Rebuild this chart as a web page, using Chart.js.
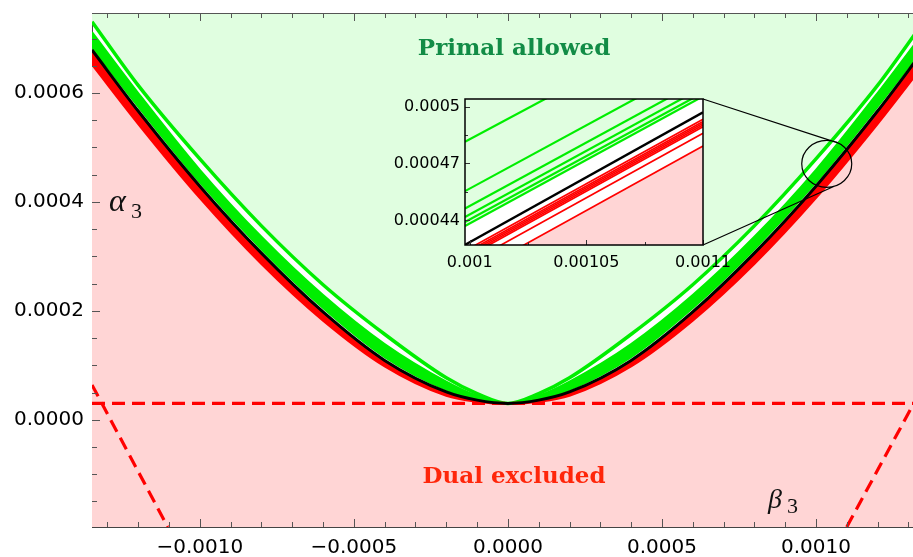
<!DOCTYPE html>
<html>
<head>
<meta charset="utf-8">
<script src="https://cdn.jsdelivr.net/npm/chart.js@4.4.1/dist/chart.umd.min.js"></script>
<style>
  html, body { margin: 0; padding: 0; background: #fff; }
  #wrap { position: relative; width: 913px; height: 557px; overflow: hidden; }
  #main { position: absolute; left: 0; top: 0; }
  #inset { position: absolute; left: 385px; top: 88px; }
</style>
</head>
<body>
<div id="wrap">
  <canvas id="main" width="913" height="557"></canvas>
  <canvas id="inset" width="380" height="190"></canvas>
</div>
<script>
// ---- main plot: bounds sampled along beta_3 ----
const betaVals = [-0.00135, -0.0012, -0.001, -0.0008, -0.0006, -0.0004, -0.0002, -0.0001, 0,
                  0.0001, 0.0002, 0.0004, 0.0006, 0.0008, 0.001, 0.0012, 0.00135];
const blackBound = [0.000679, 0.000567, 0.000429, 0.000306, 0.000198, 0.000109, 0.000051, 0.000036, 0.000030,
                    0.000036, 0.000051, 0.000109, 0.000198, 0.000306, 0.000429, 0.000567, 0.000679];
const greenOuter = [0.000731, 0.000614, 0.000479, 0.000356, 0.000248, 0.000157, 0.000077, 0.000048, 0.000030,
                    0.000048, 0.000077, 0.000157, 0.000248, 0.000356, 0.000479, 0.000614, 0.000731];
const greenBandTop = [0.000712, 0.000600, 0.000459, 0.000336, 0.000229, 0.000139, 0.000070, 0.000044, 0.000030,
                      0.000044, 0.000070, 0.000139, 0.000229, 0.000336, 0.000459, 0.000600, 0.000712];
const greenBandBot = [0.000684, 0.000575, 0.000436, 0.000313, 0.000205, 0.000115, 0.000055, 0.000038, 0.000030,
                      0.000038, 0.000055, 0.000115, 0.000205, 0.000313, 0.000436, 0.000575, 0.000684];
const redBandBot = [0.000652, 0.000543, 0.000407, 0.000286, 0.000182, 0.000098, 0.000044, 0.000033, 0.000029,
                    0.000033, 0.000044, 0.000098, 0.000182, 0.000286, 0.000407, 0.000543, 0.000652];

// dashed dual lines (end points)
const dashFlatX = [-0.00135, 0.00135], dashFlatY = [0.00003, 0.00003];
const dashLeftX = [-0.00135, -0.001104], dashLeftY = [0.000064, -0.000197];
const dashRightX = [0.0011, 0.001315], dashRightY = [-0.000197, 0.0000275];

const xMajor = [-0.001, -0.0005, 0, 0.0005, 0.001];
const xTickLabels = ["\u22120.0010", "\u22120.0005", "0.0000", "0.0005", "0.0010"];
const xMinor = [-0.0013, -0.0012, -0.0011, -0.0009, -0.0008, -0.0007, -0.0006, -0.0004, -0.0003, -0.0002, -0.0001,
                0.0001, 0.0002, 0.0003, 0.0004, 0.0006, 0.0007, 0.0008, 0.0009, 0.0011, 0.0012, 0.0013];
const yMajor = [0, 0.0002, 0.0004, 0.0006];
const yTickLabels = ["0.0000", "0.0002", "0.0004", "0.0006"];
const yMinor = [-0.00015, -0.0001, -0.00005, 0.00005, 0.0001, 0.00015, 0.00025, 0.0003, 0.00035,
                0.00045, 0.0005, 0.00055, 0.00065, 0.0007];

// ---- inset: straight segments between x = 0.000998 and x = 0.0011 ----
const insetEdgeX = [0.000998, 0.0011];
const insetGreenLeft = [0.0004815, 0.0004554, 0.0004462, 0.0004418, 0.0004391, 0.000437];
const insetGreenRight = [0.0005484, 0.0005235, 0.0005145, 0.0005102, 0.0005073, 0.0005054];
const insetBlack = [0.0004271, 0.000497];
const insetRedLeft = [0.0004239, 0.0004227, 0.0004218, 0.0004209, 0.00042, 0.0004165, 0.0004098];
const insetRedRight = [0.0004933, 0.0004921, 0.0004912, 0.0004903, 0.0004894, 0.0004859, 0.0004792];
const insetXMajor = [0.001, 0.00105, 0.0011];
const insetXLabels = ["0.001", "0.00105", "0.0011"];
const insetXMinor = [0.001025, 0.001075];
const insetYMajor = [0.00044, 0.00047, 0.0005];
const insetYLabels = ["0.00044", "0.00047", "0.0005"];
const insetYMinor = [0.000455, 0.000485];

const GREEN = "rgb(0,238,0)";
const RED = "#ff0000";
const LIGHT_GREEN = "rgb(224,254,224)";
const PINK = "rgb(255,213,213)";
const TICK_FONT = '"DejaVu Sans", sans-serif';

const pts = (xs, ys) => xs.map((v, i) => ({ x: v, y: ys[i] }));
const curve = (ys) => pts(betaVals, ys);

// stop Chart.js from reserving room for half a tick label at the axis ends
const noEndPadding = (size, key) => s => {
  s[key] = size;
  s.paddingTop = 0; s.paddingBottom = 0; s.paddingLeft = 0; s.paddingRight = 0;
};

function drawTicks(ctx, a, x, y, spec) {
  ctx.save();
  ctx.strokeStyle = spec.color;
  ctx.lineWidth = 1;
  ctx.beginPath();
  const vt = (vals, len) => vals.forEach(v => {
    const px = Math.round(x.getPixelForValue(v)) + 0.5;
    ctx.moveTo(px, a.bottom); ctx.lineTo(px, a.bottom - len);
    if (spec.top) { ctx.moveTo(px, a.top); ctx.lineTo(px, a.top + len); }
  });
  const ht = (vals, len) => vals.forEach(v => {
    const py = Math.round(y.getPixelForValue(v)) + 0.5;
    ctx.moveTo(a.left, py); ctx.lineTo(a.left + len, py);
  });
  vt(spec.xMajor, spec.major); vt(spec.xMinor, spec.minor);
  ht(spec.yMajor, spec.major); ht(spec.yMinor, spec.minor);
  ctx.stroke();
  ctx.restore();
}

// ---------- inset chart ----------
const insetSets = [];
insetGreenLeft.forEach((yl, i) => {
  const last = i === insetGreenLeft.length - 1;
  insetSets.push({
    data: pts(insetEdgeX, [yl, insetGreenRight[i]]),
    borderColor: GREEN, borderWidth: 2.2,
    fill: last ? "end" : false, backgroundColor: LIGHT_GREEN
  });
});
insetRedLeft.forEach((yl, i) => {
  const last = i === insetRedLeft.length - 1;
  insetSets.push({
    data: pts(insetEdgeX, [yl, insetRedRight[i]]),
    borderColor: RED, borderWidth: 1.7,
    fill: last ? "start" : false, backgroundColor: PINK
  });
});
insetSets.push({ data: pts(insetEdgeX, insetBlack), borderColor: "#000", borderWidth: 2.4, fill: false, order: -1 });

const insetFrame = {
  id: "insetFrame",
  beforeDatasetsDraw(chart) {
    const { ctx, chartArea: a } = chart;
    ctx.save();
    ctx.fillStyle = "#fff";
    ctx.fillRect(a.left, a.top, a.right - a.left, a.bottom - a.top);
    ctx.restore();
  },
  afterDatasetsDraw(chart) {
    const { ctx, chartArea: a, scales: { x, y } } = chart;
    drawTicks(ctx, a, x, y, { color: "#333", major: 5, minor: 3, top: false,
      xMajor: insetXMajor, xMinor: insetXMinor, yMajor: insetYMajor, yMinor: insetYMinor });
    ctx.save();
    ctx.strokeStyle = "#000";
    ctx.lineWidth = 1.5;
    ctx.strokeRect(a.left, a.top, a.right - a.left, a.bottom - a.top);
    ctx.restore();
  }
};

const insetChart = new Chart(document.getElementById("inset"), {
  type: "line",
  data: { datasets: insetSets },
  options: {
    responsive: false, animation: false, devicePixelRatio: 1,
    layout: { padding: { top: 11, right: 62, left: 0, bottom: 0 } },
    elements: { point: { radius: 0 }, line: { tension: 0 } },
    plugins: { legend: { display: false }, tooltip: { enabled: false } },
    scales: {
      x: {
        type: "linear", min: 0.000998, max: 0.0011,
        grid: { display: false, drawTicks: false }, border: { display: false },
        afterBuildTicks: s => { s.ticks = insetXMajor.map(v => ({ value: v })); },
        afterFit: noEndPadding(33, "height"),
        ticks: { callback: (v, i) => insetXLabels[i], color: "#000", padding: 8, maxRotation: 0,
                 font: { family: TICK_FONT, size: 16 } }
      },
      y: {
        type: "linear", min: 0.000427, max: 0.000504,
        grid: { display: false, drawTicks: false }, border: { display: false },
        afterBuildTicks: s => { s.ticks = insetYMajor.map(v => ({ value: v })); },
        afterFit: noEndPadding(80, "width"),
        ticks: { callback: (v, i) => insetYLabels[i], color: "#000", padding: 5,
                 font: { family: TICK_FONT, size: 16 } }
      }
    }
  },
  plugins: [insetFrame]
});

// ---------- main chart ----------
const mainMarks = {
  id: "mainMarks",
  afterDatasetsDraw(chart) {
    const { ctx, chartArea: a, scales: { x, y } } = chart;
    drawTicks(ctx, a, x, y, { color: "#555", major: 8, minor: 5, top: true,
      xMajor, xMinor, yMajor, yMinor });
    ctx.save();
    ctx.strokeStyle = "#555";
    ctx.lineWidth = 1;
    ctx.beginPath();
    ctx.moveTo(a.left, a.top + 0.5); ctx.lineTo(a.right, a.top + 0.5);
    ctx.stroke();

    // zoom circle and connectors to the inset
    const cx = x.getPixelForValue(0.001035), cy = y.getPixelForValue(0.00047);
    const rx = 25, ry = 23.5;
    const ia = insetChart.chartArea;
    const off = insetChart.canvas;
    const ix = off.offsetLeft + ia.right;
    const topPt = [cx + rx * Math.cos(-1.08), cy + ry * Math.sin(-1.08)];
    const botPt = [cx + rx * Math.cos(1.24), cy + ry * Math.sin(1.24)];
    ctx.strokeStyle = "#000";
    ctx.lineWidth = 1.2;
    ctx.beginPath();
    ctx.ellipse(cx, cy, rx, ry, 0, 0, Math.PI * 2);
    ctx.moveTo(ix, off.offsetTop + ia.top); ctx.lineTo(topPt[0], topPt[1]);
    ctx.moveTo(ix, off.offsetTop + ia.bottom); ctx.lineTo(botPt[0], botPt[1]);
    ctx.stroke();

    // region labels
    ctx.textAlign = "center";
    ctx.textBaseline = "middle";
    ctx.font = 'bold 23px "DejaVu Serif", serif';
    ctx.fillStyle = "rgb(18,140,70)";
    ctx.fillText("Primal allowed", x.getPixelForValue(0.00002), y.getPixelForValue(0.000681));
    ctx.fillStyle = "rgb(255,38,10)";
    ctx.fillText("Dual excluded", x.getPixelForValue(0.00002), y.getPixelForValue(-0.000106));

    // axis symbols
    ctx.fillStyle = "#111";
    ctx.textAlign = "left";
    ctx.textBaseline = "alphabetic";
    const ax = x.getPixelForValue(-0.001295), ay = y.getPixelForValue(0.000384);
    ctx.font = 'italic 32px "Liberation Serif", serif';
    ctx.fillText("\u03b1", ax, ay);
    ctx.font = '22px "Liberation Serif", serif';
    ctx.fillText("3", ax + 22, ay + 7);
    const bx = x.getPixelForValue(0.000844), by = y.getPixelForValue(-0.000162);
    ctx.font = 'italic 28px "Liberation Serif", serif';
    ctx.fillText("\u03b2", bx, by);
    ctx.font = '22px "Liberation Serif", serif';
    ctx.fillText("3", bx + 19, by + 5);
    ctx.restore();
  }
};

const mainChart = new Chart(document.getElementById("main"), {
  type: "line",
  data: {
    datasets: [
      { data: curve(greenOuter), borderColor: "transparent", borderWidth: 0, fill: "end", backgroundColor: LIGHT_GREEN, order: 10 },
      { data: curve(redBandBot), borderColor: "transparent", borderWidth: 0, fill: "start", backgroundColor: PINK, order: 10 },
      { data: curve(greenBandBot), borderColor: GREEN, borderWidth: 2, fill: false, order: 5 },
      { data: curve(greenBandTop), borderColor: GREEN, borderWidth: 2, fill: { target: 2 }, backgroundColor: GREEN, order: 5 },
      { data: curve(redBandBot), borderColor: RED, borderWidth: 2, fill: { target: 5 }, backgroundColor: RED, order: 6 },
      { data: curve(blackBound), borderColor: "#000", borderWidth: 3, fill: false, order: 1 },
      { data: curve(greenOuter), borderColor: GREEN, borderWidth: 3.5, fill: false, order: 4 },
      { data: pts(dashFlatX, dashFlatY), borderColor: RED, borderWidth: 3.2, borderDash: [13, 7], fill: false, order: 2, cubicInterpolationMode: "default", tension: 0 },
      { data: pts(dashLeftX, dashLeftY), borderColor: RED, borderWidth: 3.2, borderDash: [13, 7], fill: false, order: 2, cubicInterpolationMode: "default", tension: 0 },
      { data: pts(dashRightX, dashRightY), borderColor: RED, borderWidth: 3.2, borderDash: [13, 7], fill: false, order: 2, cubicInterpolationMode: "default", tension: 0 }
    ]
  },
  options: {
    responsive: false, animation: false, devicePixelRatio: 1,
    layout: { padding: { top: 13, right: 0, left: 0, bottom: 0 } },
    elements: { point: { radius: 0 }, line: { cubicInterpolationMode: "monotone" } },
    plugins: { legend: { display: false }, tooltip: { enabled: false } },
    scales: {
      x: {
        type: "linear", min: -0.00135, max: 0.001315,
        grid: { display: false, drawTicks: false },
        border: { display: true, color: "#444", width: 1 },
        afterBuildTicks: s => { s.ticks = xMajor.map(v => ({ value: v })); },
        afterFit: noEndPadding(30, "height"),
        ticks: { callback: (v, i) => xTickLabels[i], color: "#000", padding: 9, maxRotation: 0,
                 font: { family: TICK_FONT, size: 20 } }
      },
      y: {
        type: "linear", min: -0.000197, max: 0.000747,
        grid: { display: false, drawTicks: false },
        border: { display: true, color: "#444", width: 1 },
        afterBuildTicks: s => { s.ticks = yMajor.map(v => ({ value: v })); },
        afterFit: noEndPadding(92, "width"),
        ticks: { callback: (v, i) => yTickLabels[i], color: "#000", padding: 8,
                 font: { family: TICK_FONT, size: 20 } }
      }
    }
  },
  plugins: [mainMarks]
});
</script>
</body>
</html>
